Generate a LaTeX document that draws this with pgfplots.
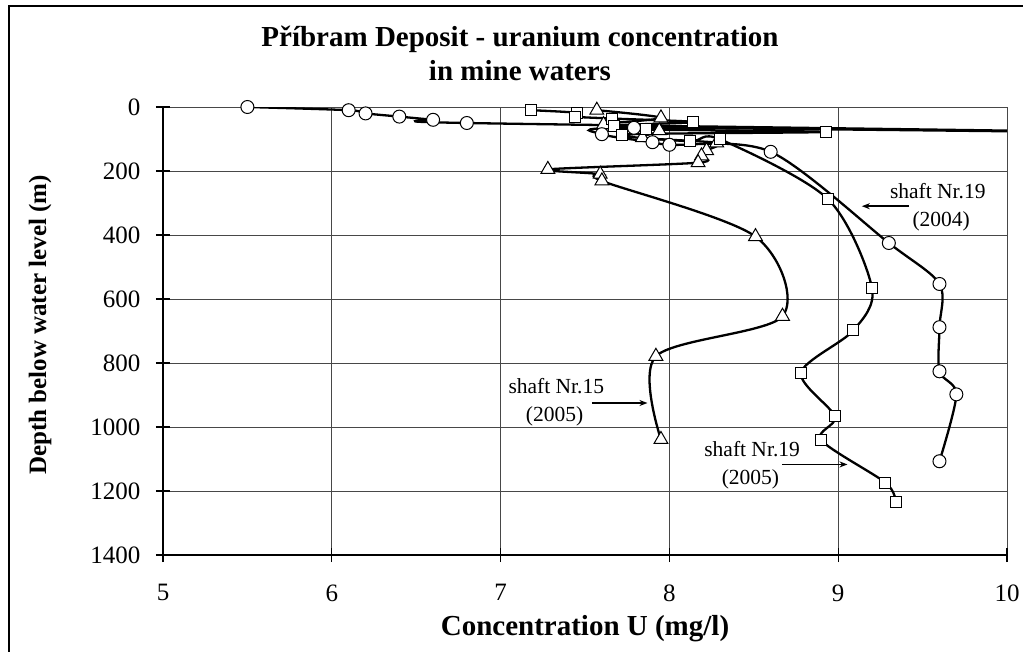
\documentclass[border=0pt]{standalone}
\usepackage{fontspec}
\setmainfont{Liberation Serif}
\usepackage{pgfplots}
\pgfplotsset{compat=1.18}
\usetikzlibrary{arrows.meta}

\pgfplotstableread{
x y
5.5 0
6.1 10
6.2 20
6.4 30
6.6 40
6.8 50
10.8 80
7.79 65
7.6 85
7.9 110
8.0 118
8.6 140
9.3 425
9.6 553
9.6 688
9.6 826
9.7 898
9.6 1107
}\circdata

\pgfplotstableread{
x y
7.18 10
7.45 18
7.44 30
7.66 36
8.14 47
7.67 58
7.86 70
8.93 78
7.72 86
8.12 107
8.30 101
8.94 288
9.20 565
9.09 698
8.78 830
8.98 967
8.90 1041
9.28 1174
9.34 1233
}\sqdata

\pgfplotstableread{
x y
7.57 10
7.95 34
7.61 55
7.94 74
7.84 96
8.28 112
8.22 136
8.19 153
8.17 174
7.28 195
7.59 210
7.60 231
8.51 405
8.67 654
7.92 779
7.95 1039
}\tridata

\begin{document}
\begin{tikzpicture}[x=1pt,y=1pt]
\useasboundingbox (0,0) rectangle (1023,-652);
\draw[line width=1.5pt] (9,-660) -- (9,-6) -- (1030,-6);
\node[font=\fontsize{29}{33}\selectfont\bfseries] at (520,-39) {Příbram Deposit - uranium concentration};
\node[font=\fontsize{29}{33}\selectfont\bfseries] at (520,-71) {in mine waters};
\node[font=\fontsize{29}{33}\selectfont\bfseries] at (585,-629) {Concentration U (mg/l)};
\node[font=\fontsize{25}{29}\selectfont\bfseries, rotate=90] at (40,-325) {Depth below water level (m)};
\begin{axis}[
  at={(163pt,-555pt)}, anchor=south west,
  width=844pt, height=448pt, scale only axis,
  xmin=5, xmax=10, ymin=0, ymax=1400, y dir=reverse,
  xtick={5,6,7,8,9,10}, ytick={0,200,400,600,800,1000,1200,1400},
  axis x line*=bottom, axis y line*=left,
  grid=major, major grid style={black!72, line width=1pt},
  axis line style={black, line width=1.2pt},
  tick align=center, major tick length=14pt, tick style={black, line width=1.2pt},
  /pgf/number format/assume math mode=true,
  /pgf/number format/1000 sep={},
  tick label style={font=\fontsize{25}{29}\selectfont},
  x tick label style={yshift=-19pt},
  y tick label style={xshift=-12pt},
  clip=true,
  every axis plot/.append style={line width=2.3pt, black},
]
\addplot[smooth, mark=triangle*, mark size=8pt, mark options={fill=white, line width=1pt}] table {\tridata};
\addplot[smooth, mark=square*, mark size=5.5pt, mark options={fill=white, line width=1pt}] table {\sqdata};
\addplot[smooth, mark=*, mark size=6.5pt, mark options={fill=white, line width=1pt}] table {\circdata};

\node[font=\fontsize{21.5}{25}\selectfont] at (axis cs:9.59,262) {shaft Nr.19};
\node[font=\fontsize{21.5}{25}\selectfont] at (axis cs:9.61,358) {(2004)};
\draw[-{Stealth[length=8pt,width=6pt]}, line width=1.5pt] (axis cs:9.42,310) -- (axis cs:9.14,310);

\node[font=\fontsize{21.5}{25}\selectfont] at (axis cs:7.33,872) {shaft Nr.15};
\node[font=\fontsize{21.5}{25}\selectfont] at (axis cs:7.32,968) {(2005)};
\draw[-{Stealth[length=8pt,width=6pt]}, line width=1.5pt] (axis cs:7.54,925) -- (axis cs:7.87,925);

\node[font=\fontsize{21.5}{25}\selectfont] at (axis cs:8.49,1070) {shaft Nr.19};
\node[font=\fontsize{21.5}{25}\selectfont] at (axis cs:8.48,1165) {(2005)};
\draw[-{Stealth[length=8pt,width=6pt]}, line width=1.5pt] (axis cs:8.67,1117) -- (axis cs:9.055,1117);
\end{axis}
\end{tikzpicture}
\end{document}
